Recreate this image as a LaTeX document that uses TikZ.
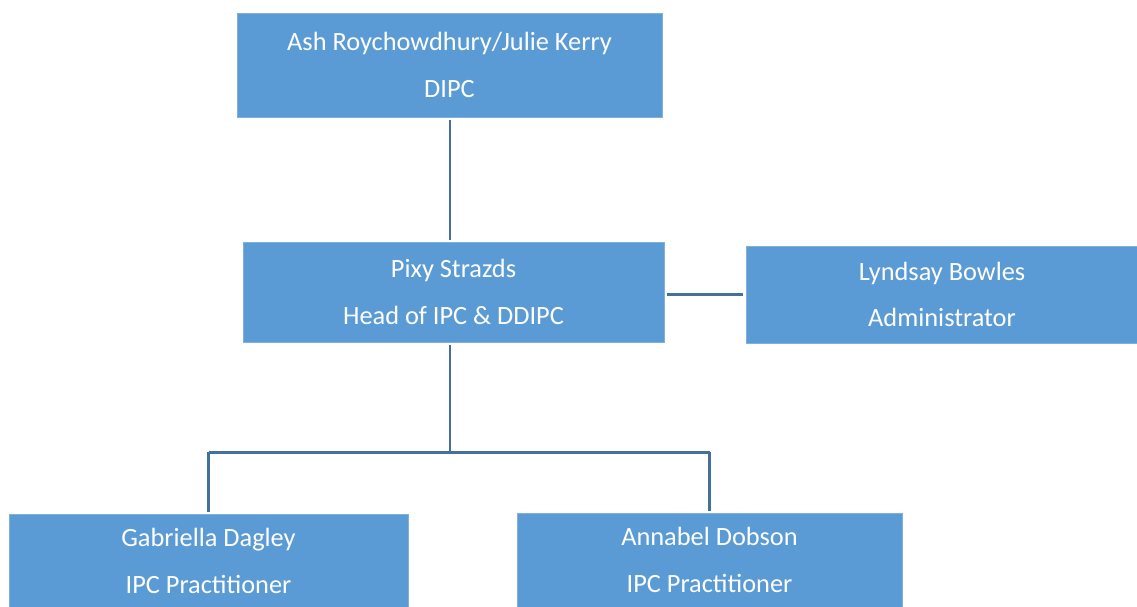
\documentclass[tikz,border=0pt]{standalone}
\usepackage{fontspec}
\setmainfont{Carlito}
\definecolor{boxblue}{HTML}{5B9BD5}
\definecolor{boxedge}{HTML}{7FB0DE}
\definecolor{linkblue}{HTML}{41719C}
\begin{document}
\begin{tikzpicture}[x=0.02cm,y=-0.02cm,
  orgbox/.style={rectangle, fill=boxblue, draw=boxedge, line width=0.4pt, text=white, align=center, inner sep=0pt,
    font=\fontsize{15pt}{26.6pt}\selectfont},
  link/.style={draw=linkblue, line width=1.7pt}]
\useasboundingbox (0,0) rectangle (1137,606);
\node[orgbox, minimum width=425*0.02cm, minimum height=104*0.02cm] (top) at (449.5,65) {Ash Roychowdhury/Julie Kerry\\DIPC};
\node[orgbox, minimum width=421*0.02cm, minimum height=100*0.02cm] (mid) at (453.5,292) {Pixy Strazds\\Head of IPC \& DDIPC};
\node[orgbox, minimum width=392*0.02cm, minimum height=97*0.02cm] (adm) at (942,294.5) {Lyndsay Bowles\\Administrator};
\node[orgbox, minimum width=399*0.02cm, minimum height=94*0.02cm] (gd) at (208.5,561) {Gabriella Dagley\\IPC Practitioner};
\node[orgbox, minimum width=385*0.02cm, minimum height=94*0.02cm] (ad) at (709.5,560) {Annabel Dobson\\IPC Practitioner};
\coordinate (split) at (450,452);
\draw[link, shorten <=3*0.02cm, shorten >=2*0.02cm] (top.south -| split) -- (mid.north -| split);
\draw[link, shorten <=3*0.02cm, shorten >=3*0.02cm] (mid.east |- adm.center) -- (adm.west |- adm.center);
\draw[link, shorten <=3*0.02cm] (mid.south -| split) -- (split);
\draw[link, shorten >=2*0.02cm] (gd.north |- split) -- (gd.north);
\draw[link, shorten >=2*0.02cm] (ad.north |- split) -- (ad.north);
\draw[link] (gd.north |- split) -- (ad.north |- split);
\end{tikzpicture}
\end{document}
